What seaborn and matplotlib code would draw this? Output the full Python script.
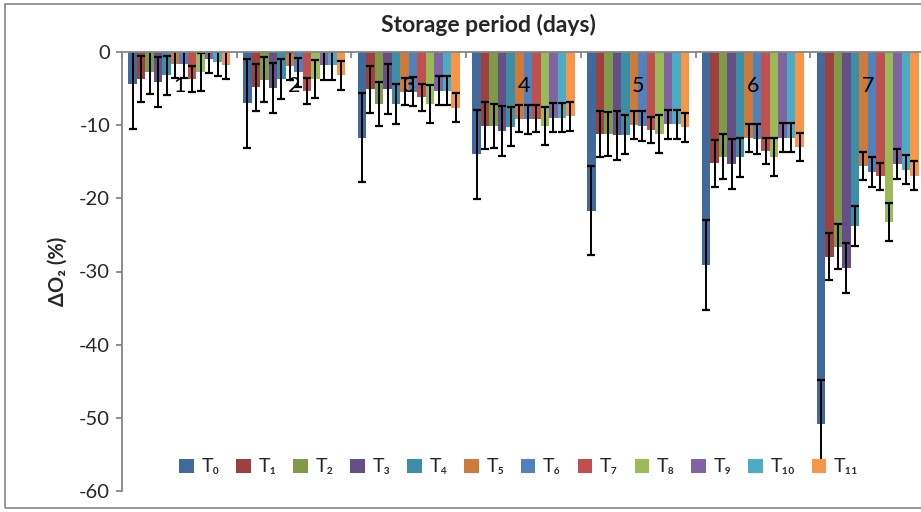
import numpy as np
import pandas as pd
import matplotlib
matplotlib.use("Agg")
import matplotlib.pyplot as plt
from matplotlib.patches import Rectangle
import seaborn as sns

sns.set_theme(style="white")
plt.rcParams["font.family"] = ["Lato", "DejaVu Sans"]
plt.rcParams["axes.unicode_minus"] = False

# Storage days (category axis) and treatments (series)
days = ["1", "2", "3", "4", "5", "6", "7"]
treatments = ["T₀", "T₁", "T₂", "T₃", "T₄", "T₅", "T₆", "T₇", "T₈", "T₉", "T₁₀", "T₁₁"]

# Mean change in O2 (%) for each treatment over days 1-7
t0 = [-4.4, -7.0, -11.7, -14.0, -21.7, -29.1, -50.9]
t1 = [-3.7, -4.8, -5.1, -10.1, -11.2, -15.2, -28.0]
t2 = [-2.7, -3.8, -7.1, -10.1, -11.2, -14.3, -26.6]
t3 = [-4.1, -4.9, -5.1, -10.8, -11.4, -15.3, -29.5]
t4 = [-3.2, -3.7, -7.1, -10.2, -11.3, -14.4, -23.8]
t5 = [-1.7, -1.9, -5.4, -9.1, -10.0, -11.8, -15.6]
t6 = [-1.6, -2.8, -5.4, -9.2, -10.1, -11.9, -16.4]
t7 = [-3.7, -5.3, -6.2, -9.1, -10.7, -13.5, -17.0]
t8 = [-2.7, -3.7, -7.1, -10.1, -11.2, -14.3, -23.2]
t9 = [-0.9, -1.8, -5.3, -9.0, -9.9, -11.7, -15.3]
t10 = [-1.3, -1.8, -5.3, -9.0, -9.9, -11.7, -16.1]
t11 = [-1.8, -3.2, -7.6, -8.8, -10.3, -13.0, -16.9]

# Error bar half-widths per treatment
errors = [6.1, 3.2, 3.05, 3.4, 2.7, 1.9, 2.0, 1.8, 2.6, 2.0, 2.0, 1.95]

colors = ["#40699C", "#9E413E", "#7F9A48", "#664F86", "#3A8EA5", "#CE7A3A",
          "#4F81BD", "#C0504D", "#9BBB59", "#8064A2", "#4BACC6", "#F79646"]

series = [t0, t1, t2, t3, t4, t5, t6, t7, t8, t9, t10, t11]
rows = []
for name, vals, err in zip(treatments, series, errors):
    for d, v in zip(days, vals):
        rows.append({"day": d, "treatment": name, "value": v, "err": err})
df = pd.DataFrame(rows)

fig = plt.figure(figsize=(9.21, 5.12), dpi=100)
W, H = 921, 512
ax = fig.add_axes([122 / W, (H - 491) / H, 803 / W, 439 / H])

sns.barplot(data=df, x="day", y="value", hue="treatment", order=days,
            hue_order=treatments, palette=colors, width=0.89, errorbar=None,
            saturation=1, linewidth=0, ax=ax)

# Error bars from the drawn bar positions
for cont, name in zip(ax.containers, treatments):
    sub = df[df["treatment"] == name].set_index("day").loc[days]
    xs = [b.get_x() + b.get_width() / 2 for b in cont]
    hs = [b.get_height() for b in cont]
    ax.errorbar(xs, hs, yerr=sub["err"].values, fmt="none", ecolor="black",
                elinewidth=1.4, capsize=3, capthick=1.6, zorder=5)

ax.set_ylim(-60, 0)
ax.set_xlim(-0.5, len(days) - 0.5)
ax.set_yticks(np.arange(-60, 1, 10))
ax.set_ylabel("ΔO₂ (%)", fontsize=14.5, fontweight="bold", labelpad=8)
ax.set_xlabel("")

grey = "#868686"
for s in ["right", "bottom"]:
    ax.spines[s].set_visible(False)
for s in ["left", "top"]:
    ax.spines[s].set_color(grey)
    ax.spines[s].set_linewidth(1.3)
    ax.spines[s].set_zorder(6)

# Category axis sits on the zero line; day labels are drawn over the bars
ax.xaxis.set_ticks_position("top")
ax.xaxis.set_zorder(6)
ax.set_xticks(range(len(days)))
ax.set_xticklabels(days)
ax.set_xticks(np.arange(-0.5, len(days), 1), minor=True)
ax.tick_params(axis="x", which="major", length=0, labeltop=True,
               labelbottom=False, pad=-32, labelsize=15.5, colors="black")
ax.tick_params(axis="x", which="minor", length=4.5, direction="in",
               width=1.3, color=grey, top=True, bottom=False)
ax.tick_params(axis="y", which="major", length=4.5, direction="out",
               width=1.3, color=grey, left=True, labelsize=14.5, pad=4)

handles, labels = ax.get_legend_handles_labels()
ax.legend(handles, labels, ncol=12, loc="center",
          bbox_to_anchor=(519 / W, (H - 467) / H), bbox_transform=fig.transFigure,
          frameon=False, fontsize=14, handlelength=0.75, handleheight=0.75,
          handletextpad=0.4, columnspacing=0.85, borderaxespad=0)

fig.text(488 / W, (H - 25) / H, "Storage period (days)", ha="center",
         va="center", fontsize=16.5, fontweight="bold")

# Chart area frame
fig.patches.append(Rectangle((5 / W, (H - 508) / H), 930 / W, 504 / H,
                             transform=fig.transFigure, fill=False,
                             edgecolor=grey, linewidth=1.2))

fig.savefig("out.png", dpi=100)
